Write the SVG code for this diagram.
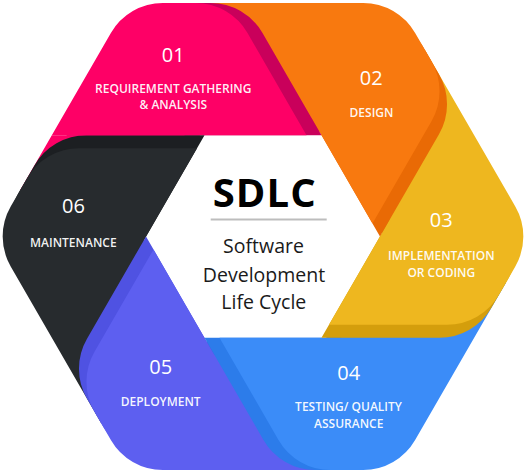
<svg xmlns="http://www.w3.org/2000/svg" width="527" height="474" viewBox="0 0 527 474">
  <style>
    text { font-family: "Open Sans", "Liberation Sans", "DejaVu Sans", sans-serif; text-anchor: middle; }
    .num { font-size: 20px; fill: #ffffff; }
    .lbl { font-size: 12px; font-weight: 600; fill: #ffffff; fill-opacity: 0.94; }
    .title { font-size: 40px; font-weight: 700; fill: #000000; }
    .sub { font-size: 19.5px; fill: #1a1a1a; }
    .rule { stroke: #bdbdbd; stroke-width: 2; fill: none; }
    .c1 { fill: #fe0066; } .c1d { fill: #c9005b; }
    .c2 { fill: #f8790f; } .c2d { fill: #e96a05; }
    .c3 { fill: #eeb71f; } .c3d { fill: #d49e0c; }
    .c4 { fill: #3b8cf8; } .c4d { fill: #2c7cea; }
    .c5 { fill: #5d5ff0; } .c5d { fill: #4f52e2; }
    .c6 { fill: #272b2e; } .c6d { fill: #1c1f22; }
  </style>
  <defs>
    <!-- one blade of the hexagon ring (top-left position); others are rotations about the hub centre -->
    <path id="blade" d="M162.84 3 L195.56 3 A60 60 0 0 1 247.52 33 L306.5 135.2 L185 135.2 L170 150 L100 190 L20.2 190 L110.88 33 A60 60 0 0 1 162.84 3 Z"/>
    <g id="blade-01">
      <use href="#blade" class="c1d" transform="translate(15 0)"/>
      <use href="#blade" class="c1"/>
    </g>
    <clipPath id="clip-upper"><rect x="0" y="0" width="527" height="135.2"/></clipPath>
    <clipPath id="clip-lower"><rect x="0" y="135.2" width="527" height="339"/></clipPath>
  </defs>

  <!-- lower tail of blade 01, tucked under blade 06 -->
  <g id="phase-01-tail">
    <use href="#blade-01" clip-path="url(#clip-lower)"/>
  </g>

  <g id="phase-06">
    <g transform="rotate(300 263 236.5)">
      <use href="#blade" class="c6d" transform="translate(15 0)"/>
      <use href="#blade" class="c6"/>
    </g>
    <text class="num" x="73.5" y="213.3">06</text>
    <text class="lbl" x="73.3" y="246.5">MAINTENANCE</text>
  </g>

  <g id="phase-05">
    <g transform="rotate(240 263 236.5)">
      <use href="#blade" class="c5d" transform="translate(15 0)"/>
      <use href="#blade" class="c5"/>
    </g>
    <text class="num" x="160.8" y="373.5">05</text>
    <text class="lbl" x="160.7" y="406">DEPLOYMENT</text>
  </g>

  <g id="phase-04">
    <g transform="rotate(180 263 236.5)">
      <use href="#blade" class="c4d" transform="translate(15 0)"/>
      <use href="#blade" class="c4"/>
    </g>
    <text class="num" x="348.7" y="379.5">04</text>
    <text class="lbl" x="348.5" y="411">TESTING/ QUALITY</text>
    <text class="lbl" x="348.7" y="427.5">ASSURANCE</text>
  </g>

  <g id="phase-03">
    <g transform="rotate(120 263 236.5)">
      <use href="#blade" class="c3d" transform="translate(15 0)"/>
      <use href="#blade" class="c3"/>
    </g>
    <text class="num" x="441.3" y="226.5">03</text>
    <text class="lbl" x="441.3" y="259.5">IMPLEMENTATION</text>
    <text class="lbl" x="441.3" y="277">OR CODING</text>
  </g>

  <g id="phase-02">
    <g transform="rotate(60 263 236.5)">
      <use href="#blade" class="c2d" transform="translate(15 0)"/>
      <use href="#blade" class="c2"/>
    </g>
    <text class="num" x="371.3" y="85">02</text>
    <text class="lbl" x="371.5" y="116.5">DESIGN</text>
  </g>

  <g id="phase-01">
    <use href="#blade-01" clip-path="url(#clip-upper)"/>
    <text class="num" x="173.3" y="62.3">01</text>
    <text class="lbl" x="173.3" y="93.3">REQUIREMENT GATHERING</text>
    <text class="lbl" x="173.3" y="109.3">&amp; ANALYSIS</text>
  </g>

  <g id="connectors"/>

  <g id="hub">
    <text class="title" x="264.2" y="207" textLength="103" lengthAdjust="spacing">SDLC</text>
    <line class="rule" x1="210.7" y1="219.5" x2="326.7" y2="219.5"/>
    <text class="sub" x="263.5" y="253">Software</text>
    <text class="sub" x="264" y="281.5">Development</text>
    <text class="sub" x="263.8" y="309">Life Cycle</text>
  </g>
</svg>
